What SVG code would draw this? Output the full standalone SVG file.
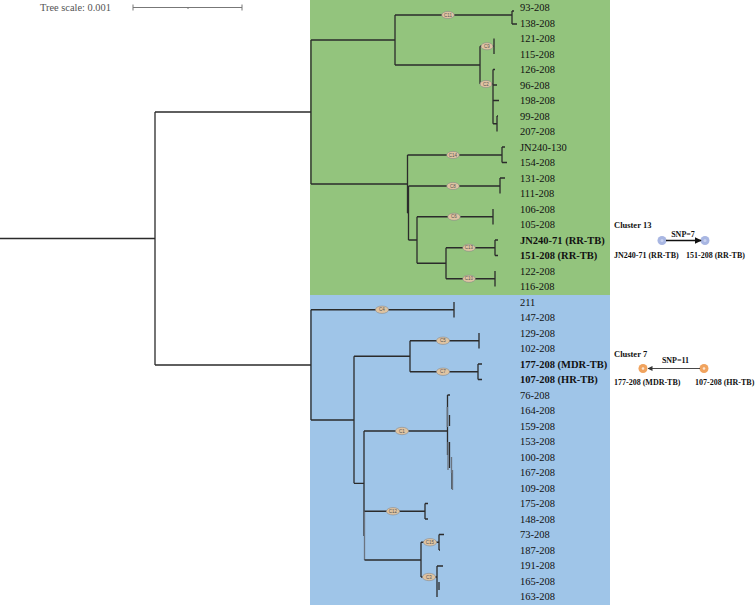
<svg xmlns="http://www.w3.org/2000/svg" width="756" height="605" viewBox="0 0 756 605">
<defs>
<style>
.br{stroke:#2b2b2b;stroke-width:1.3;fill:none}
.gr{stroke:#6a7480;stroke-width:1.3;fill:none}
.lb{font-family:"Liberation Serif","Times New Roman",serif;font-size:10.5px;fill:#111}
.lbb{font-family:"Liberation Serif","Times New Roman",serif;font-size:10.5px;font-weight:bold;fill:#111}
.cl{fill:#dfc4a2;stroke:#8a8a8a;stroke-width:0.6}
.ct{font-family:"Liberation Sans",Arial,sans-serif;font-size:4.5px;fill:#555;text-anchor:middle}
.an{font-family:"Liberation Serif","Times New Roman",serif;font-size:8.5px;font-weight:bold;fill:#111}
.as{font-family:"Liberation Serif","Times New Roman",serif;font-size:8px;font-weight:bold;fill:#111}
</style>
<marker id="ah1" viewBox="0 0 10 10" refX="9" refY="5" markerWidth="7" markerHeight="7" orient="auto" markerUnits="userSpaceOnUse"><path d="M0,0 L10,5 L0,10 z" fill="#111"/></marker>
<marker id="ah2" viewBox="0 0 10 10" refX="9" refY="5" markerWidth="5" markerHeight="5" orient="auto" markerUnits="userSpaceOnUse"><path d="M0,0 L10,5 L0,10 z" fill="#333"/></marker>
</defs>

<g id="background">
<rect x="310" y="0" width="300" height="295" fill="#93c47d"/>
<rect x="310" y="295" width="300" height="310" fill="#9fc5e8"/>
</g>

<g id="tree-scale">
<text x="40" y="11" font-family="'Liberation Serif','Times New Roman',serif" font-size="10.4" fill="#555">Tree scale: 0.001</text>
<path d="M133,7.5 H242 M133,4.5 V10.5 M242,4.5 V10.5 M188,7.5 V9" stroke="#777" stroke-width="1" fill="none"/>
</g>

<g id="connectors">
<path class="br" d="M0,238.5 H155 M155,112 V365 M155,112 H311 M155,365 H311"/>
<path class="br" d="M311,40 V184 M311,40 H395 M395,15 V65 M395,15 H512 M512,11 V24 M512,11 H514 M512,24 H517"/>
<path class="br" d="M395,65 H480 M480,46.25 V84 M480,46.25 H494 M494,38.5 V54"/>
<path class="br" d="M480,84 H493 M493,69.5 V123.75 M493,69.5 H495 M493,85 H497 M493,100.5 H499 M493,123.75 H497 M497,116 V131.5 M497,116 H498"/>
<path class="br" d="M311,184 H407.5 M407.5,155 V213 M407.5,213 H408.5 M408.5,186 V240"/>
<path class="br" d="M407.5,155 H502 M502,147 V162.5 M502,147 H505 M502,162.5 H507"/>
<path class="br" d="M408.5,186 H500 M500,178 V193.5 M500,178 H505"/>
<path class="br" d="M408.5,240 H417 M417,216.75 V263.25 M417,216.75 H493 M493,209 V224.5"/>
<path class="br" d="M417,263.25 H446 M446,247.75 V278.75 M446,247.75 H495 M495,240 V255.5 M495,240 H498 M495,255.5 H498"/>
<path class="br" d="M446,278.75 H495 M495,271 V286.5"/>
<path class="br" d="M311,309.75 V420 M311,309.75 H454 M454,302 V317.5"/>
<path class="br" d="M311,420 H354 M354,356.25 V483.3 M354,356.25 H410 M410,340.75 V371.75"/>
<path class="br" d="M410,340.75 H479 M479,333 V348.5"/>
<path class="br" d="M410,371.75 H478 M478,364 V379.5 M478,364 H482 M478,379.5 H482"/>
<path class="br" d="M354,483.3 H364 M364,431 V536 M364,431 H447"/>
<path class="gr" d="M364.5,511.25 V560"/>
<path class="br" d="M447.5,395 V455 M447.5,395 H450 M449.5,415 V426 M449.5,442 V468 M452,472 V489"/>
<path class="gr" d="M447.3,407 V427 M448,442 V470 M451.5,457 V473 M452.5,470 V490"/>
<path class="br" d="M364.5,511.25 H425 M425,503.5 V519 M425,503.5 H428 M425,519 H428"/>
<path class="br" d="M364.5,560 H421 M421,542.25 V577 M421,542.25 H439 M439,534.5 V550 M439,534.5 H444 M439,550 H440"/>
<path class="br" d="M421,577 H437 M437,566 V597 M437,566 H443 M439,582 V590"/>
</g>

<g id="clade-labels">
<g id="C11"><ellipse class="cl" cx="448" cy="15" rx="6.3" ry="3.6"/><text class="ct" x="448" y="16.6">C11</text></g>
<g id="C9"><ellipse class="cl" cx="487" cy="46.25" rx="6" ry="3.6"/><text class="ct" x="487" y="47.8">C9</text></g>
<g id="C2"><ellipse class="cl" cx="486" cy="84" rx="6" ry="3.6"/><text class="ct" x="486" y="85.6">C2</text></g>
<g id="C14"><ellipse class="cl" cx="453" cy="155" rx="6.3" ry="3.6"/><text class="ct" x="453" y="156.6">C14</text></g>
<g id="C8"><ellipse class="cl" cx="453" cy="186" rx="6.3" ry="3.6"/><text class="ct" x="453" y="187.6">C8</text></g>
<g id="C6"><ellipse class="cl" cx="454" cy="216.75" rx="6.3" ry="3.6"/><text class="ct" x="454" y="218.3">C6</text></g>
<g id="C13"><ellipse class="cl" cx="469" cy="247.75" rx="6.3" ry="3.6"/><text class="ct" x="469" y="249.3">C13</text></g>
<g id="C10"><ellipse class="cl" cx="469" cy="278.75" rx="6.3" ry="3.6"/><text class="ct" x="469" y="280.3">C10</text></g>
<g id="C4"><ellipse class="cl" cx="382" cy="309.75" rx="6.6" ry="3.7"/><text class="ct" x="382" y="311.3">C4</text></g>
<g id="C5"><ellipse class="cl" cx="443" cy="340.75" rx="6.6" ry="3.7"/><text class="ct" x="443" y="342.3">C5</text></g>
<g id="C7"><ellipse class="cl" cx="443" cy="371.75" rx="6.6" ry="3.7"/><text class="ct" x="443" y="373.3">C7</text></g>
<g id="C1"><ellipse class="cl" cx="402" cy="431" rx="6.6" ry="3.7"/><text class="ct" x="402" y="432.6">C1</text></g>
<g id="C12"><ellipse class="cl" cx="393" cy="511.25" rx="6.6" ry="3.7"/><text class="ct" x="393" y="512.8">C12</text></g>
<g id="C15"><ellipse class="cl" cx="430" cy="542.25" rx="6.6" ry="3.7"/><text class="ct" x="430" y="543.8">C15</text></g>
<g id="C3"><ellipse class="cl" cx="429" cy="577" rx="6.6" ry="3.7"/><text class="ct" x="429" y="578.6">C3</text></g>
</g>

<g id="leaf-labels">
<text class="lb" x="520" y="11">93-208</text>
<text class="lb" x="520" y="26.5">138-208</text>
<text class="lb" x="520" y="42">121-208</text>
<text class="lb" x="520" y="57.5">115-208</text>
<text class="lb" x="520" y="73">126-208</text>
<text class="lb" x="520" y="88.5">96-208</text>
<text class="lb" x="520" y="104">198-208</text>
<text class="lb" x="520" y="119.5">99-208</text>
<text class="lb" x="520" y="135">207-208</text>
<text class="lb" x="520" y="150.5">JN240-130</text>
<text class="lb" x="520" y="166">154-208</text>
<text class="lb" x="520" y="181.5">131-208</text>
<text class="lb" x="520" y="197">111-208</text>
<text class="lb" x="520" y="212.5">106-208</text>
<text class="lb" x="520" y="228">105-208</text>
<text class="lbb" x="520" y="243.5">JN240-71 (RR-TB)</text>
<text class="lbb" x="520" y="259">151-208 (RR-TB)</text>
<text class="lb" x="520" y="274.5">122-208</text>
<text class="lb" x="520" y="290">116-208</text>
<text class="lb" x="520" y="305.5">211</text>
<text class="lb" x="520" y="321">147-208</text>
<text class="lb" x="520" y="336.5">129-208</text>
<text class="lb" x="520" y="352">102-208</text>
<text class="lbb" x="520" y="367.5">177-208 (MDR-TB)</text>
<text class="lbb" x="520" y="383">107-208 (HR-TB)</text>
<text class="lb" x="520" y="398.5">76-208</text>
<text class="lb" x="520" y="414">164-208</text>
<text class="lb" x="520" y="429.5">159-208</text>
<text class="lb" x="520" y="445">153-208</text>
<text class="lb" x="520" y="460.5">100-208</text>
<text class="lb" x="520" y="476">167-208</text>
<text class="lb" x="520" y="491.5">109-208</text>
<text class="lb" x="520" y="507">175-208</text>
<text class="lb" x="520" y="522.5">148-208</text>
<text class="lb" x="520" y="538">73-208</text>
<text class="lb" x="520" y="553.5">187-208</text>
<text class="lb" x="520" y="569">191-208</text>
<text class="lb" x="520" y="584.5">165-208</text>
<text class="lb" x="520" y="600">163-208</text>
</g>

<g id="cluster13">
<text class="an" x="614" y="228">Cluster 13</text>
<circle cx="662" cy="240.5" r="4.5" fill="#a8b6e2"/>
<circle cx="662" cy="240.5" r="1.5" fill="#c8d2f0"/>
<circle cx="705" cy="240.5" r="4.5" fill="#a8b6e2"/>
<circle cx="705" cy="240.5" r="1.5" fill="#c8d2f0"/>
<line x1="666" y1="240.5" x2="701" y2="240.5" stroke="#111" stroke-width="1.4" marker-end="url(#ah1)"/>
<text class="as" x="683" y="236.5" text-anchor="middle" font-weight="normal">SNP=7</text>
<text class="as" x="614" y="258">JN240-71 (RR-TB)</text>
<text class="as" x="686" y="258">151-208 (RR-TB)</text>
</g>

<g id="cluster7">
<text class="an" x="614" y="356.5">Cluster 7</text>
<circle cx="643" cy="368.5" r="4.5" fill="#f0a35e"/>
<circle cx="643" cy="368.5" r="1.3" fill="#fde6d2"/>
<circle cx="704" cy="368.5" r="4.5" fill="#f0a35e"/>
<circle cx="704" cy="368.5" r="1.3" fill="#fde6d2"/>
<line x1="700" y1="368.5" x2="648" y2="368.5" stroke="#333" stroke-width="0.9" marker-end="url(#ah2)"/>
<text class="as" x="675.5" y="363" text-anchor="middle">SNP=11</text>
<text class="as" x="614" y="385">177-208 (MDR-TB)</text>
<text class="as" x="695" y="385">107-208 (HR-TB)</text>
</g>
</svg>
